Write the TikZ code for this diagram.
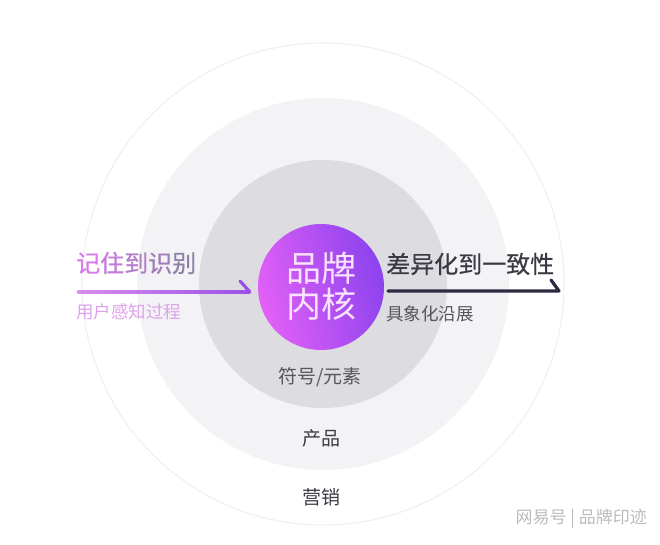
\documentclass[tikz,border=0pt]{standalone}
\usepackage{fontspec}
\setmainfont{Noto Sans CJK SC}
\usetikzlibrary{calc}
\definecolor{outerline}{HTML}{EFEFF1}
\definecolor{midfill}{HTML}{F3F3F5}
\definecolor{innerfill}{HTML}{DCDCE1}
\definecolor{coreL}{HTML}{E260F7}
\definecolor{coreR}{HTML}{8C43EE}
\definecolor{coretext}{HTML}{FBE3FD}
\definecolor{arrowL}{HTML}{D98CEC}
\definecolor{arrowR}{HTML}{9A50E8}
\definecolor{darkarrow}{HTML}{2B2A40}
\definecolor{tA}{HTML}{D67DE8}
\definecolor{tB}{HTML}{8E80A8}
\definecolor{subL}{HTML}{DDA2EC}
\definecolor{darktext}{HTML}{3A3A44}
\definecolor{graytext}{HTML}{56565D}
\definecolor{wmark}{HTML}{BCBCC0}
\tikzset{
  title/.style={anchor=west, inner sep=0pt, font=\fontsize{24}{24}\selectfont\addfontfeature{FakeBold=0.5}},
  subtitle/.style={anchor=west, inner sep=0pt, font=\fontsize{17.5}{17.5}\selectfont},
  ringlabel/.style={inner sep=0pt, font=\fontsize{19}{19}\selectfont},
  coreword/.style={inner sep=0pt, align=center, text=coretext, font=\fontsize{35}{36}\selectfont},
  barbline/.style={line width=3.2pt, line cap=round, line join=round}
}
\begin{document}
\begin{tikzpicture}[x=1pt,y=-1pt]
\useasboundingbox (0,0) rectangle (660,545);
\fill[white] (0,0) rectangle (660,545);
\coordinate (c) at (323,284);
\draw[outerline, line width=1pt] (c) circle [radius=241pt];
\fill[midfill] (c) circle [radius=186pt];
\fill[innerfill] (c) circle [radius=124pt];
\shade[left color=coreL, right color=coreR, shading angle=105] (321,287) circle [radius=63pt];
\node[coreword] (core) at (321,286) {品牌\\内核};
% left arrow
\coordinate (la) at (78,292);
\coordinate (lb) at (250,292);
\shade[left color=arrowL, right color=arrowR] ($(la)+(0,-1.6)$) rectangle ($(lb)+(0,1.6)$);
\fill[arrowL] (la) circle [radius=1.6pt];
\draw[arrowR, barbline] (lb) -- ++(-10,-11);
% right arrow
\coordinate (ra) at (388,291);
\coordinate (rb) at (559,291);
\draw[darkarrow, barbline] (ra) -- (rb) -- ++(-8,-11);
% texts
\node[title] (t1) at (76,263) {{\color{tA}记}{\color{tA!75!tB}住}{\color{tA!50!tB}到}{\color{tA!25!tB}识}{\color{tB}别}};
\node[subtitle, text=subL] (t2) at (76,312) {用户感知过程};
\node[title, text=darktext] (t3) at (386,264) {差异化到一致性};
\node[subtitle, text=graytext] (t4) at (386,314) {具象化沿展};
\node[ringlabel, text=graytext] (t5) at (320,377) {符号/元素};
\node[ringlabel, text=darktext] (t6) at (321,438) {产品};
\node[ringlabel, text=darktext] (t7) at (321,497) {营销};
\node[anchor=east, inner sep=0pt, text=wmark, font=\fontsize{17}{17}\selectfont] (wm) at (647,519) {网易号 | 品牌印迹};
\end{tikzpicture}
\end{document}
